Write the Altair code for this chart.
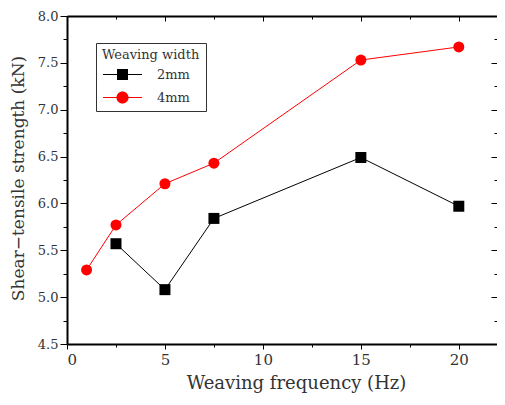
import altair as alt
import pandas as pd

# ---- data ----
series_names = ["2mm", "4mm"]
series_colors = ["#000000", "#ff0000"]
freq_2mm = [2.5, 5, 7.5, 15, 20]
strength_2mm = [5.57, 5.08, 5.84, 6.49, 5.97]
freq_4mm = [1, 2.5, 5, 7.5, 15, 20]
strength_4mm = [5.29, 5.77, 6.21, 6.43, 7.53, 7.67]

x_major = [0, 5, 10, 15, 20]
x_minor = [2.5, 7.5, 12.5, 17.5]
y_major = [4.5, 5.0, 5.5, 6.0, 6.5, 7.0, 7.5, 8.0]
y_minor = [4.75, 5.25, 5.75, 6.25, 6.75, 7.25, 7.75]

df = pd.DataFrame({
    "freq": freq_2mm + freq_4mm,
    "strength": strength_2mm + strength_4mm,
    "series": [series_names[0]] * len(freq_2mm) + [series_names[1]] * len(freq_4mm),
})

FONT = "DejaVu Serif"
TXT = "#333333"

xs = alt.Scale(domain=[0, 21.95], nice=False, zero=False)
ys = alt.Scale(domain=[4.5, 8.0], nice=False, zero=False)
cs = alt.Scale(domain=series_names, range=series_colors)


def plain_axis(values, orient, size, offset=0, domain=False):
    return alt.Axis(values=values, orient=orient, tickSize=size, offset=offset,
                    labels=False, domain=domain, domainColor="black", domainWidth=2,
                    grid=False, title=None, tickColor="black", tickWidth=1,
                    ticks=size > 0)


base = alt.Chart(df)

# legend symbols: a thin bar (the line) plus the marker, all filled
legend_shapes = [
    "M-3.55,-0.09H3.55V0.09H-3.55ZM-1,-1H1V1H-1Z",
    "M-3.55,-0.09H3.55V0.09H-3.55ZM1.1,0A1.1,1.1 0 1,1 -1.1,0A1.1,1.1 0 1,1 1.1,0Z",
]

leg = alt.Legend(title="Weaving width", orient="none", legendX=29, legendY=27)

# invisible helper layer: carries the legend and the minor top/right ticks
legend_layer = base.mark_point(filled=True, size=0, opacity=1).encode(
    x=alt.X("freq:Q", scale=xs, axis=plain_axis(x_minor, "top", 3, -3)),
    y=alt.Y("strength:Q", scale=ys, axis=plain_axis(y_minor, "right", 3, -3)),
    color=alt.Color("series:N", scale=cs, legend=leg),
    shape=alt.Shape("series:N", scale=alt.Scale(domain=series_names, range=legend_shapes),
                    legend=leg),
)

# main lines (carry the labelled bottom / left axes and their frame lines)
lines = base.mark_line(strokeWidth=1).encode(
    x=alt.X("freq:Q", scale=xs, axis=alt.Axis(
        values=x_major, orient="bottom", tickSize=5, domain=True,
        domainColor="black", domainWidth=2, grid=False,
        tickColor="black", labelFont=FONT, labelFontSize=15, labelColor=TXT,
        labelPadding=3, title="Weaving frequency (Hz)", titleFont=FONT,
        titleFontSize=18, titleFontWeight="normal", titleColor=TXT,
        titleX=229, titleY=44, titleBaseline="alphabetic")),
    y=alt.Y("strength:Q", scale=ys, axis=alt.Axis(
        values=y_major, orient="left", tickSize=7, domain=True,
        domainColor="black", domainWidth=2, grid=False,
        tickColor="black", labelFont=FONT, labelFontSize=13, labelColor=TXT,
        labelPadding=2, format=".1f", title="Shear\u2212tensile strength (kN)",
        titleFont=FONT, titleFontSize=17, titleFontWeight="normal",
        titleColor=TXT, titleX=-44, titleY=162, titleBaseline="alphabetic")),
    color=alt.Color("series:N", scale=cs),
    detail="series:N",
)

squares = base.transform_filter(alt.datum.series == series_names[0]).mark_point(
    shape="square", filled=True, size=121, opacity=1
).encode(
    x=alt.X("freq:Q", scale=xs, axis=plain_axis(x_minor, "bottom", 3)),
    y=alt.Y("strength:Q", scale=ys, axis=plain_axis(y_minor, "left", 4)),
    color=alt.Color("series:N", scale=cs),
)

circles = base.transform_filter(alt.datum.series == series_names[1]).mark_point(
    shape="circle", filled=True, size=121, opacity=1
).encode(
    x=alt.X("freq:Q", scale=xs, axis=plain_axis(x_major, "top", 5, -5)),
    y=alt.Y("strength:Q", scale=ys, axis=plain_axis(y_major, "right", 6, -6)),
    color=alt.Color("series:N", scale=cs),
)

# invisible helper layer for the top frame line
frame_layer = base.mark_point(size=0, opacity=0).encode(
    x=alt.X("freq:Q", scale=xs, axis=plain_axis(x_major, "top", 0, 0, True)),
)

chart = alt.layer(legend_layer, lines, squares, circles, frame_layer).resolve_axis(
    x="independent", y="independent"
).properties(
    width=430, height=328,
    autosize=alt.AutoSizeParams(type="none"),
    padding={"left": 59, "top": 8, "right": 0, "bottom": 53},
).configure_view(
    stroke=None
).configure_legend(
    orient="none", legendX=29, legendY=27,
    strokeColor="#333333", fillColor="white", padding=6,
    titleFont=FONT, titleFontSize=13, titleFontWeight="normal", titleColor=TXT,
    titlePadding=6, labelFont=FONT, labelFontSize=13, labelColor=TXT,
    symbolSize=121, symbolStrokeWidth=0, symbolOpacity=1,
    symbolOffset=14, labelOffset=28, rowPadding=9,
)

chart.save("out.html", embed_options={"renderer": "svg", "actions": False})
